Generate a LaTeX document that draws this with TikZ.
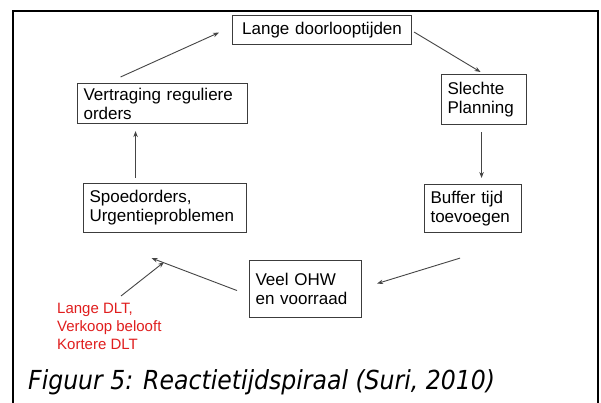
\documentclass[tikz,border=0pt]{standalone}
\usepackage{fontspec}
\setmainfont{Liberation Sans}
\newfontfamily\capfont{DejaVu Sans Condensed}
\usetikzlibrary{calc,arrows.meta}
\definecolor{boxgray}{HTML}{3C3C3C}
\definecolor{arrgray}{HTML}{454545}
\definecolor{notered}{HTML}{E01E1E}
\begin{document}
\begin{tikzpicture}[x=1pt,y=-1pt,
  box/.style={draw=boxgray, line width=1.1pt, inner xsep=6pt, inner ysep=0pt,
    font=\fontsize{17}{19}\selectfont, align=left, anchor=north west},
  arr/.style={draw=arrgray, line width=0.9pt, -{Stealth[length=6pt,width=4.5pt]}},
  frame/.style={line width=2.6pt, line cap=rect}]
  \useasboundingbox[fill=white] (0,0) rectangle (601,403);
  % open frame round the figure
  \draw[frame] (13,403) -- (13,11) -- (598,11) -- (598,403);

  % cause and effect boxes
  \node[box, align=center, text width=167pt, minimum height=29pt] (lange) at (232,15) {Lange doorlooptijden};
  \node[box, text width=158pt, minimum height=40pt] (vert) at (77,83) {Vertraging reguliere\\orders};
  \node[box, text width=73pt, minimum height=50pt] (slechte) at (441,74) {Slechte\\Planning};
  \node[box, text width=151pt, minimum height=49pt] (spoed) at (83,183) {Spoedorders,\\Urgentieproblemen};
  \node[box, text width=85pt, minimum height=48pt] (buffer) at (424,184) {Buffer tijd\\toevoegen};
  \node[box, text width=100pt, minimum height=57pt] (veel) at (249,260) {Veel OHW\\en voorraad};

  % side remark
  \node[anchor=north west, inner sep=0pt, align=left, text=notered,
    font=\fontsize{15}{18}\selectfont] (note) at (57,303) {Lange DLT,\\Verkoop belooft\\Kortere DLT};

  % caption
  \node[anchor=base west, inner sep=0pt, font=\capfont\itshape\fontsize{26.2}{30}\selectfont] (cap) at (28,389)
    {Figuur 5: Reactietijdspiraal (Suri, 2010)};

  % the spiral
  \draw[arr] ($(vert.north)+(-42,-6)$) -- ($(lange.west)+(-13,2.5)$);
  \draw[arr] ($(lange.east)+(2,2)$) -- ($(slechte.north)+(-3.5,-2)$);
  \draw[arr] ($(slechte.south)+(-2.5,7)$) -- ($(buffer.north)+(8.5,-6)$);
  \draw[arr] ($(buffer.south)+(-13,25)$) -- ($(veel.east)+(15,-5.5)$);
  \draw[arr] ($(veel.west)+(-12,1.5)$) -- ($(spoed.south)+(-13.5,25)$);
  \draw[arr] ($(spoed.north)+(-29.5,-5)$) -- ($(vert.south)+(-27,7)$);
  \draw[arr] ($(note.north west)+(64,-7)$) -- ($(spoed.south)+(-1,29)$);
\end{tikzpicture}
\end{document}
